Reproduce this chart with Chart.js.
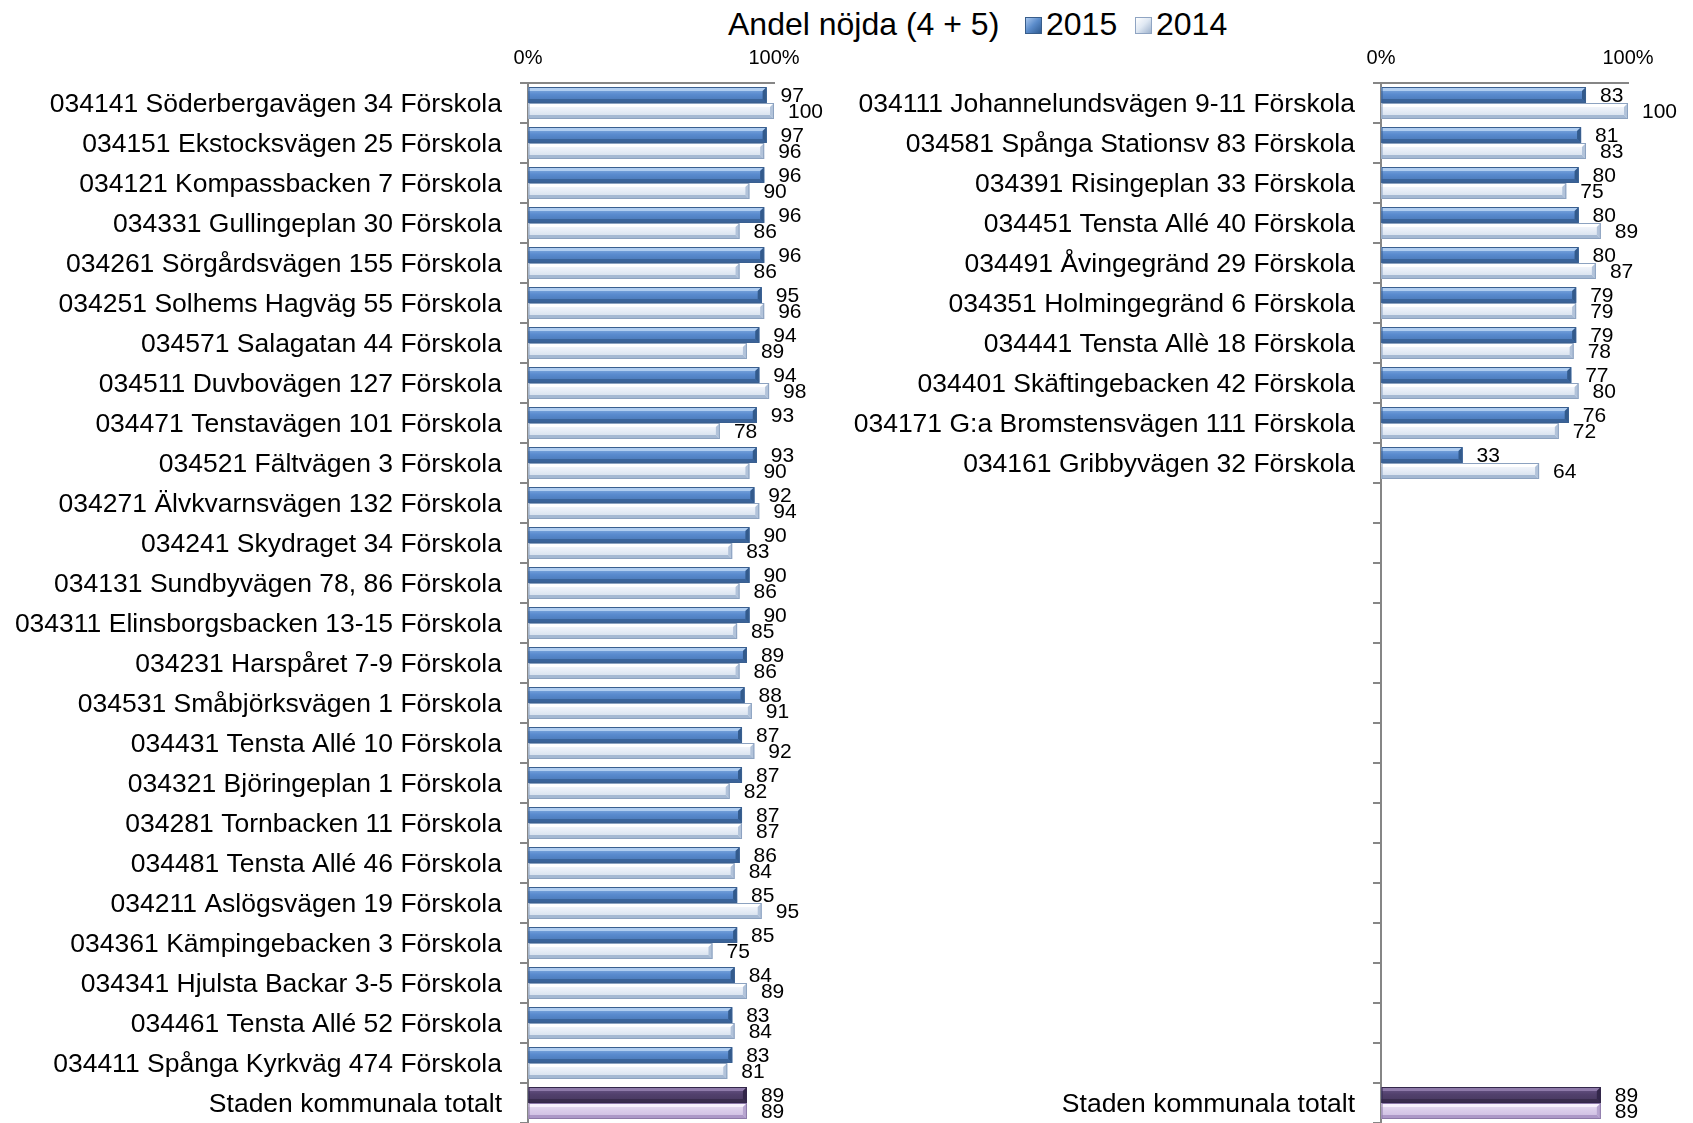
<!DOCTYPE html>
<html lang="sv">
<head>
<meta charset="utf-8">
<title>Andel nöjda (4 + 5)</title>
<script src="https://cdn.jsdelivr.net/npm/chart.js@4.4.1/dist/chart.umd.min.js"></script>
<style>
  html, body { margin: 0; padding: 0; background: #fff; }
  body { width: 1693px; height: 1123px; position: relative; overflow: hidden;
         font-family: Arial, "Liberation Sans", sans-serif; color: #000; }
  canvas { position: absolute; top: 0; }
  #left { left: 0; }
  #right { left: 846px; }
  .head { position: absolute; top: 8px; font-size: 32px; line-height: 32px; white-space: nowrap; }
  .swatch { position: absolute; top: 17px; width: 15px; height: 15px; }
  .s2015 { background: linear-gradient(135deg, #a9c7ee 0%, #5b8ccb 48%, #2f5b91 100%); border: 1px solid #385d8a; }
  .s2014 { background: linear-gradient(135deg, #ffffff 0%, #dfe8f3 48%, #9fb3cd 100%); border: 1px solid #8fa4c2; }
</style>
</head>
<body>
<div class="head" style="left:728px">Andel nöjda (4 + 5)</div>
<span class="swatch s2015" style="left:1025px"></span>
<div class="head" style="left:1046px">2015</div>
<span class="swatch s2014" style="left:1135px"></span>
<div class="head" style="left:1156px">2014</div>

<canvas id="left" width="846" height="1123"></canvas>
<canvas id="right" width="847" height="1123"></canvas>

<script>
// Förskolor, vänster kolumn
const leftSchools = [
  '034141 Söderbergavägen 34 Förskola',
  '034151 Ekstocksvägen 25 Förskola',
  '034121 Kompassbacken 7 Förskola',
  '034331 Gullingeplan 30 Förskola',
  '034261 Sörgårdsvägen 155 Förskola',
  '034251 Solhems Hagväg 55 Förskola',
  '034571 Salagatan 44 Förskola',
  '034511 Duvbovägen 127 Förskola',
  '034471 Tenstavägen 101 Förskola',
  '034521 Fältvägen 3 Förskola',
  '034271 Älvkvarnsvägen 132 Förskola',
  '034241 Skydraget 34 Förskola',
  '034131 Sundbyvägen 78, 86 Förskola',
  '034311 Elinsborgsbacken 13-15 Förskola',
  '034231 Harspåret 7-9 Förskola',
  '034531 Småbjörksvägen 1 Förskola',
  '034431 Tensta Allé 10 Förskola',
  '034321 Björingeplan 1 Förskola',
  '034281 Tornbacken 11 Förskola',
  '034481 Tensta Allé 46 Förskola',
  '034211 Aslögsvägen 19 Förskola',
  '034361 Kämpingebacken 3 Förskola',
  '034341 Hjulsta Backar 3-5 Förskola',
  '034461 Tensta Allé 52 Förskola',
  '034411 Spånga Kyrkväg 474 Förskola',
  'Staden kommunala totalt'
];
const left2015 = [97, 97, 96, 96, 96, 95, 94, 94, 93, 93, 92, 90, 90, 90, 89, 88, 87, 87, 87, 86, 85, 85, 84, 83, 83, 89];
const left2014 = [100, 96, 90, 86, 86, 96, 89, 98, 78, 90, 94, 83, 86, 85, 86, 91, 92, 82, 87, 84, 95, 75, 89, 84, 81, 89];

// Förskolor, höger kolumn (tomma rader fram till totalen)
const rightSchools = [
  '034111 Johannelundsvägen 9-11 Förskola',
  '034581 Spånga Stationsv 83 Förskola',
  '034391 Risingeplan 33 Förskola',
  '034451 Tensta Allé 40 Förskola',
  '034491 Åvingegränd 29 Förskola',
  '034351 Holmingegränd 6 Förskola',
  '034441 Tensta Allè 18 Förskola',
  '034401 Skäftingebacken 42 Förskola',
  '034171 G:a Bromstensvägen 111 Förskola',
  '034161 Gribbyvägen 32 Förskola',
  '', '', '', '', '', '', '', '', '', '', '', '', '', '', '',
  'Staden kommunala totalt'
];
const right2015 = [83, 81, 80, 80, 80, 79, 79, 77, 76, 33,
  null, null, null, null, null, null, null, null, null, null, null, null, null, null, null, 89];
const right2014 = [100, 83, 75, 89, 87, 79, 78, 80, 72, 64,
  null, null, null, null, null, null, null, null, null, null, null, null, null, null, null, 89];

const pctTicks = [0, 100];

const FONT = 'Arial, "Liberation Sans", sans-serif';
const AXIS_GRAY = '#868686';

// colours for the bevelled bars: [series][isTotal]
const palettes = [
  [
    { hi: '#b0cdf0', top: '#8db3e2', main: '#5a8bcf', dark: '#4674b2', lo: '#3a6399', end: '#325a8c', border: '#3a5f8f' },
    { hi: '#8e7aa9', top: '#6e5a8c', main: '#52416d', dark: '#45365c', lo: '#392c4d', end: '#33274a', border: '#33274a' }
  ],
  [
    { hi: '#ffffff', top: '#fbfcfe', main: '#e8eef7', dark: '#d0dcea', lo: '#a5b9d3', end: '#b2c3da', border: '#8ca2c0' },
    { hi: '#f7f1fc', top: '#ece3f5', main: '#dacdea', dark: '#cbbadf', lo: '#ac98c7', end: '#b7a5d0', border: '#8c79a8' }
  ]
];

function poly(ctx, pts, color) {
  ctx.beginPath();
  ctx.moveTo(pts[0][0], pts[0][1]);
  for (let i = 1; i < pts.length; i++) ctx.lineTo(pts[i][0], pts[i][1]);
  ctx.closePath();
  ctx.fillStyle = color;
  ctx.fill();
}

function drawBevelBar(ctx, x0, x1, top, bot, pal) {
  const b = Math.min(4, (x1 - x0) / 2, (bot - top) / 3);
  const g = ctx.createLinearGradient(0, top, 0, bot);
  g.addColorStop(0, pal.top);
  g.addColorStop(0.45, pal.main);
  g.addColorStop(1, pal.dark);
  ctx.fillStyle = g;
  ctx.fillRect(x0, top, x1 - x0, bot - top);
  poly(ctx, [[x0, top], [x1, top], [x1 - b, top + b], [x0, top + b]], pal.hi);
  poly(ctx, [[x0, bot], [x1, bot], [x1 - b, bot - b], [x0, bot - b]], pal.lo);
  poly(ctx, [[x1, top], [x1, bot], [x1 - b, bot - b], [x1 - b, top + b]], pal.end);
  ctx.strokeStyle = pal.border;
  ctx.lineWidth = 1;
  ctx.strokeRect(x0 + 0.5, top + 0.5, x1 - x0 - 1, bot - top - 1);
}

// redraws each bar with a bevel and writes its value beside it
const bevelAndValues = {
  id: 'bevelAndValues',
  afterDatasetsDraw(chart) {
    const ctx = chart.ctx;
    const last = chart.data.labels.length - 1;
    ctx.save();
    chart.data.datasets.forEach((ds, d) => {
      const meta = chart.getDatasetMeta(d);
      meta.data.forEach((el, i) => {
        const v = ds.data[i];
        if (v === null || v === undefined) return;
        const p = el.getProps(['x', 'y', 'base', 'height'], true);
        const top = Math.round(p.y - p.height / 2);
        const bot = Math.round(p.y + p.height / 2);
        drawBevelBar(ctx, p.base, p.x, top, bot, palettes[d][i === last ? 1 : 0]);
        ctx.fillStyle = '#000';
        ctx.font = '21px ' + FONT;
        ctx.textAlign = 'left';
        ctx.textBaseline = 'middle';
        ctx.fillText(String(v), p.x + 14, p.y + 1);
      });
    });
    ctx.restore();
  }
};

function buildChart(canvasId, labels, v2015, v2014, axisWidth, padRight) {
  return new Chart(document.getElementById(canvasId), {
    type: 'bar',
    data: {
      labels: labels,
      datasets: [
        { label: '2015', data: v2015, backgroundColor: '#4f81bd', borderWidth: 0 },
        { label: '2014', data: v2014, backgroundColor: '#dce6f2', borderWidth: 0 }
      ]
    },
    plugins: [bevelAndValues],
    options: {
      indexAxis: 'y',
      responsive: false,
      animation: false,
      datasets: { bar: { categoryPercentage: 0.8, barPercentage: 0.94 } },
      layout: { padding: { top: 0, right: padRight, bottom: 0, left: 0 } },
      plugins: {
        legend: { display: false },
        tooltip: { enabled: false }
      },
      scales: {
        x: {
          position: 'top',
          min: 0,
          max: 100,
          afterBuildTicks: s => { s.ticks = pctTicks.map(v => ({ value: v })); },
          afterFit: s => { s.height = 83; s.paddingLeft = 0; s.paddingRight = 0; },
          ticks: {
            padding: 13,
            color: '#000',
            font: { family: FONT, size: 20 },
            maxRotation: 0,
            callback: v => v + '%'
          },
          grid: { drawOnChartArea: false, drawTicks: false },
          border: { display: true, color: AXIS_GRAY, width: 2 }
        },
        y: {
          afterFit: s => { s.width = axisWidth; s.paddingTop = 0; s.paddingBottom = 0; },
          ticks: {
            autoSkip: false,
            padding: 18,
            labelOffset: 2,
            color: '#000',
            font: { family: FONT, size: 26.5 }
          },
          grid: { drawOnChartArea: false, tickLength: 8, color: AXIS_GRAY, lineWidth: 2 },
          border: { display: true, color: AXIS_GRAY, width: 2 }
        }
      }
    }
  });
}

buildChart('left', leftSchools, left2015, left2014, 528, 72);
buildChart('right', rightSchools, right2015, right2014, 535, 65);
</script>
</body>
</html>
